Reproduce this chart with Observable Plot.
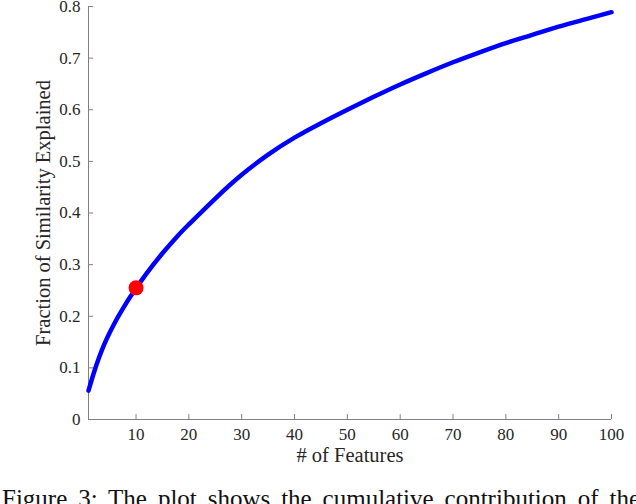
<!DOCTYPE html>
<html>
<head>
<meta charset="utf-8">
<script src="https://cdn.jsdelivr.net/npm/d3@7"></script>
<script src="https://cdn.jsdelivr.net/npm/@observablehq/plot@0.6"></script>
<style>
  html, body { margin: 0; padding: 0; background: #fff; overflow: hidden; }
  #wrap { width: 636px; height: 504px; position: relative; overflow: hidden; }
  #chart svg, #chart svg text { font-family: 'Liberation Serif', 'Times New Roman', serif !important; }
  #caption { position: absolute; left: 0; top: 480px; width: 640px; padding-left: 2px; height: 24px; overflow: hidden;
    font-family: 'Liberation Serif', 'Times New Roman', serif; font-size: 25px; line-height: 25px; padding-top: 6px; box-sizing: border-box;
    text-align: justify; text-align-last: justify; color: #111; }
</style>
</head>
<body>
<div id="wrap"><div id="chart"></div><div id="caption">Figure 3: The plot shows the cumulative contribution of the</div></div>
<script>
const features = [1, 2, 3, 4, 5, 6, 7, 8, 9, 10, 12, 15, 18, 20, 25, 30, 35, 40, 45, 50, 55, 60, 65, 70, 75, 80, 85, 90, 95, 100];
const fraction = [0.056, 0.09, 0.12, 0.146, 0.168, 0.188, 0.206, 0.223, 0.239, 0.254, 0.283, 0.322, 0.357, 0.378, 0.428, 0.474, 0.513, 0.546, 0.574, 0.600, 0.625, 0.649, 0.671, 0.692, 0.711, 0.729, 0.745, 0.761, 0.775, 0.789];
const highlightX = [10];
const highlightY = [0.255];
const xTicks = [10, 20, 30, 40, 50, 60, 70, 80, 90, 100];
const yTicks = [0, 0.1, 0.2, 0.3, 0.4, 0.5, 0.6, 0.7, 0.8];
const xLabel = "# of Features";
const yLabel = "Fraction of Similarity Explained";

const curve = features.map((x, i) => ({x, y: fraction[i]}));
const dots = highlightX.map((x, i) => ({x, y: highlightY[i]}));
const axisColor = "#808080";
const textColor = "#262626";
const serif = "'Liberation Serif', 'Times New Roman', serif";

const chart = Plot.plot({
  width: 636,
  height: 480,
  marginLeft: 88,
  marginRight: 25,
  marginTop: 6,
  marginBottom: 61,
  style: {fontFamily: serif, background: "white"},
  x: {domain: [1, 100], axis: null},
  y: {domain: [0, 0.8], axis: null},
  marks: [
    Plot.axisX(xTicks, {tickSize: 0, tickPadding: 8, fontSize: 17, color: textColor, tickFormat: d => String(d), label: null}),
    Plot.axisY(yTicks, {tickSize: 0, tickPadding: 8, fontSize: 17, color: textColor, tickFormat: d => String(d), label: null}),
    Plot.ruleX(xTicks, {x: d => d, y1: 0, y2: 0.0095, stroke: axisColor, strokeWidth: 1}),
    Plot.ruleY(yTicks, {y: d => d, x1: 1, x2: 1.95, stroke: axisColor, strokeWidth: 1}),
    Plot.ruleX([1], {stroke: axisColor, strokeWidth: 1}),
    Plot.ruleY([0], {stroke: axisColor, strokeWidth: 1}),
    Plot.line(curve, {x: "x", y: "y", stroke: "#0000ff", strokeWidth: 4.5, curve: "natural"}),
    Plot.dot(dots, {x: "x", y: "y", r: 7.5, fill: "#ff0000", stroke: "none"}),
    Plot.text([xLabel], {frameAnchor: "bottom", dy: 42, fontSize: 20.5, fill: textColor, textAnchor: "middle", text: d => d}),
    Plot.text([yLabel], {frameAnchor: "left", dx: -45, rotate: -90, fontSize: 20.5, fill: textColor, textAnchor: "middle", text: d => d})
  ]
});
document.getElementById("chart").appendChild(chart);
</script>
</body>
</html>
